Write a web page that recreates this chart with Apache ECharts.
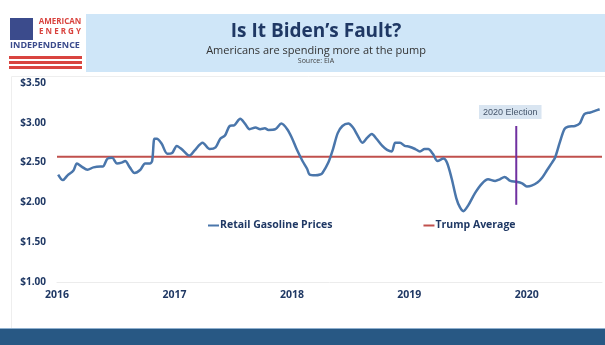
<!DOCTYPE html>
<html>
<head>
<meta charset="utf-8">
<script src="https://cdn.jsdelivr.net/npm/echarts@6/dist/echarts.min.js"></script>
<style>
  html, body { margin: 0; padding: 0; background: #fff; }
  #chart { width: 605px; height: 345px; }
</style>
</head>
<body>
<div id="chart"></div>
<script>
// weekly-ish retail gasoline price (x = decimal year)
var yearPos = [
  2016.01, 2016.05, 2016.09, 2016.14, 2016.17, 2016.21, 2016.26, 2016.31, 2016.37, 2016.39,
  2016.43, 2016.47, 2016.51, 2016.55, 2016.58, 2016.62, 2016.66, 2016.71, 2016.75, 2016.79,
  2016.81, 2016.83, 2016.85, 2016.89, 2016.94, 2016.98, 2017.02, 2017.06, 2017.11, 2017.13,
  2017.17, 2017.24, 2017.30, 2017.35, 2017.39, 2017.43, 2017.47, 2017.51, 2017.56, 2017.60,
  2017.64, 2017.69, 2017.73, 2017.77, 2017.80, 2017.86, 2017.91, 2017.96, 2018.00, 2018.04,
  2018.09, 2018.13, 2018.15, 2018.20, 2018.24, 2018.26, 2018.31, 2018.35, 2018.39, 2018.43,
  2018.48, 2018.52, 2018.56, 2018.60, 2018.64, 2018.68, 2018.72, 2018.77, 2018.81, 2018.85,
  2018.88, 2018.92, 2018.96, 2019.00, 2019.05, 2019.09, 2019.13, 2019.16, 2019.20, 2019.24,
  2019.29, 2019.32, 2019.36, 2019.40, 2019.43, 2019.46, 2019.50, 2019.56, 2019.62, 2019.67,
  2019.73, 2019.77, 2019.81, 2019.86, 2019.91, 2019.96, 2020.00, 2020.04, 2020.09, 2020.13,
  2020.17, 2020.21, 2020.24, 2020.28, 2020.32, 2020.35, 2020.41, 2020.45, 2020.49, 2020.54,
  2020.58, 2020.62
];
var prices = [
  2.35, 2.28, 2.34, 2.40, 2.49, 2.45, 2.41, 2.44, 2.45, 2.45,
  2.55, 2.56, 2.49, 2.50, 2.52, 2.44, 2.37, 2.41, 2.49, 2.49,
  2.52, 2.80, 2.80, 2.74, 2.61, 2.62, 2.71, 2.67, 2.60, 2.59,
  2.65, 2.75, 2.67, 2.69, 2.80, 2.84, 2.96, 2.97, 3.05, 2.99,
  2.92, 2.94, 2.92, 2.93, 2.91, 2.92, 2.99, 2.92, 2.81, 2.67,
  2.52, 2.42, 2.35, 2.34, 2.35, 2.37, 2.50, 2.67, 2.87, 2.96,
  2.99, 2.94, 2.84, 2.75, 2.81, 2.86, 2.80, 2.71, 2.66, 2.64,
  2.75, 2.75, 2.71, 2.70, 2.67, 2.64, 2.67, 2.67, 2.61, 2.52,
  2.55, 2.50, 2.30, 2.05, 1.94, 1.89, 1.96, 2.12, 2.24, 2.29,
  2.27, 2.29, 2.32, 2.27, 2.26, 2.24, 2.20, 2.21, 2.25, 2.31,
  2.40, 2.49, 2.56, 2.75, 2.92, 2.95, 2.96, 2.99, 3.11, 3.13,
  3.15, 3.17
];
var trumpAverage = 2.575;
var electionYear = 2019.91;
var electionSpan = [2.96, 1.97];
var yTicks = [1.0, 1.5, 2.0, 2.5, 3.0, 3.5];
var xYears = [2016, 2017, 2018, 2019, 2020];
var xEnd = 2020.64;

var navy = '#1f3864';
var chart = echarts.init(document.getElementById('chart'));

var option = {
  animation: false,
  backgroundColor: '#ffffff',
  textStyle: { fontFamily: '"Open Sans", sans-serif' },
  grid: { left: 57, right: 3, top: 83, bottom: 63 },
  legend: {
    left: 203,
    top: 215,
    icon: 'rect',
    itemWidth: 11,
    itemHeight: 2,
    itemGap: 91,
    data: ['Retail Gasoline Prices', 'Trump Average'],
    textStyle: { color: navy, fontWeight: 'bold', fontSize: 10.5, padding: [0, 0, 0, -4] }
  },
  xAxis: {
    type: 'value',
    min: xYears[0],
    max: xEnd,
    interval: 1,
    splitLine: { show: false },
    axisTick: { show: false },
    axisLine: { show: true, lineStyle: { color: '#ececec', width: 1 } },
    axisLabel: {
      color: navy, fontWeight: 'bold', fontSize: 10.5, margin: 8,
      showMaxLabel: false,
      formatter: function (v) { return xYears.indexOf(v) >= 0 ? String(v) : ''; }
    }
  },
  yAxis: {
    type: 'value',
    min: yTicks[0],
    max: yTicks[yTicks.length - 1],
    interval: 0.5,
    splitLine: { show: false },
    axisTick: { show: false },
    axisLine: { show: false },
    axisLabel: {
      color: navy, fontWeight: 'bold', fontSize: 10, margin: 11,
      formatter: function (v) { return '$' + v.toFixed(2); }
    }
  },
  graphic: [
    // title band
    { type: 'rect', shape: { x: 86, y: 14, width: 519, height: 58 }, style: { fill: '#cfe6f8' }, silent: true },
    { type: 'text', x: 316, y: 32, style: { text: 'Is It Biden\u2019s Fault?', fill: navy, font: 'bold 19px "Open Sans", sans-serif', textAlign: 'center', textVerticalAlign: 'middle' } },
    { type: 'text', x: 316, y: 51, style: { text: 'Americans are spending more at the pump', fill: '#333333', font: '11px "Open Sans", sans-serif', textAlign: 'center', textVerticalAlign: 'middle' } },
    { type: 'text', x: 316, y: 61, style: { text: 'Source: EIA', fill: '#444444', font: '7px "Open Sans", sans-serif', textAlign: 'center', textVerticalAlign: 'middle' } },
    // logo
    { type: 'rect', shape: { x: 10, y: 18, width: 23, height: 22 }, style: { fill: '#3b4b8c' }, silent: true },
    { type: 'text', x: 60, y: 22, style: { text: 'AMERICAN', fill: '#d9443f', font: 'bold 8px "Open Sans", sans-serif', textAlign: 'center', textVerticalAlign: 'middle' } },
    { type: 'text', x: 60, y: 32, style: { text: 'E N E R G Y', fill: '#d9443f', font: 'bold 8px "Open Sans", sans-serif', textAlign: 'center', textVerticalAlign: 'middle' } },
    { type: 'text', x: 45, y: 45, style: { text: 'INDEPENDENCE', fill: '#3b4b8c', font: 'bold 9px "Open Sans", sans-serif', textAlign: 'center', textVerticalAlign: 'middle' } },
    { type: 'rect', shape: { x: 9, y: 56, width: 73, height: 3 }, style: { fill: '#d9443f' }, silent: true },
    { type: 'rect', shape: { x: 9, y: 61, width: 73, height: 3 }, style: { fill: '#d9443f' }, silent: true },
    { type: 'rect', shape: { x: 9, y: 66, width: 73, height: 3 }, style: { fill: '#d9443f' }, silent: true },
    // faint frame and bottom band
    { type: 'rect', shape: { x: 11.5, y: 76.5, width: 600, height: 252 }, style: { fill: 'none', stroke: '#eeeeee' }, silent: true },
    { type: 'rect', shape: { x: 0, y: 329, width: 605, height: 16 }, style: { fill: '#285884' }, silent: true },
    { type: 'rect', shape: { x: 0, y: 328, width: 605, height: 1 }, style: { fill: '#8fb0cf' }, silent: true }
  ],
  series: [
    {
      name: 'Trump Average',
      type: 'line',
      symbol: 'none',
      z: 2,
      lineStyle: { color: '#c0504d', width: 2 },
      itemStyle: { color: '#c0504d' },
      data: [[xYears[0], trumpAverage], [xEnd, trumpAverage]]
    },
    {
      name: 'Retail Gasoline Prices',
      type: 'line',
      symbol: 'none',
      smooth: 0.3,
      z: 3,
      lineStyle: { color: '#4a76ab', width: 2.5 },
      itemStyle: { color: '#4a76ab' },
      data: yearPos.map(function (x, i) { return [x, prices[i]]; })
    },
    {
      name: 'Election',
      type: 'line',
      symbol: 'none',
      z: 4,
      lineStyle: { color: '#7030a0', width: 2 },
      data: [
        {
          value: [electionYear, electionSpan[0]],
          symbol: 'circle', symbolSize: 0,
          label: {
            show: true, position: 'top', distance: 7, offset: [-6, 0],
            formatter: '2020 Election',
            color: '#44546a', fontSize: 9, fontFamily: 'Liberation Sans, sans-serif',
            backgroundColor: '#d9e5f1', padding: [3, 4, 2, 4]
          }
        },
        [electionYear, electionSpan[1]]
      ]
    }
  ]
};
chart.setOption(option);
</script>
</body>
</html>
